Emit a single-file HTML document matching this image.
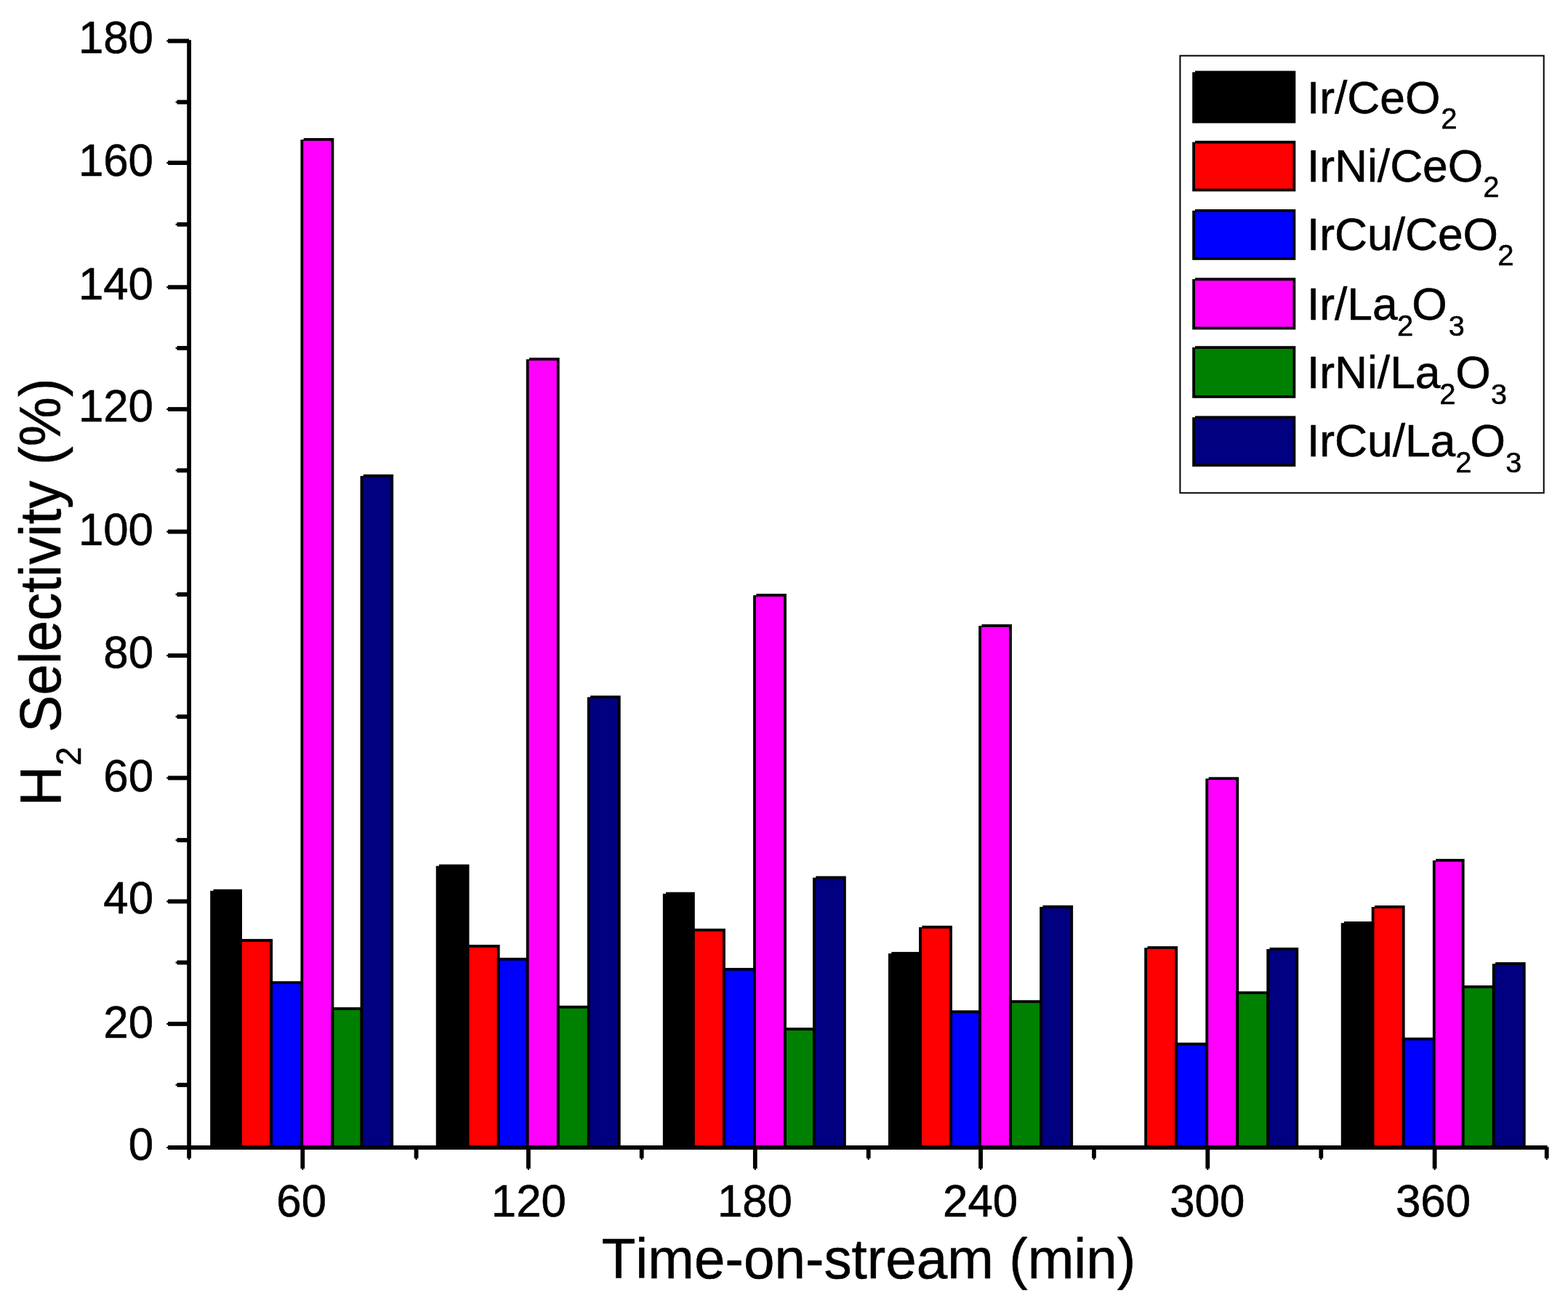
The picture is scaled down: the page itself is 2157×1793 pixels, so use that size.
<!DOCTYPE html>
<html lang="en"><head><meta charset="utf-8"><title>H2 Selectivity vs Time-on-stream</title>
<style>html,body{margin:0;padding:0;background:#fff;}body{width:2157px;height:1793px;overflow:hidden;}svg{display:block;}text{font-family:"Liberation Sans",Arial,Helvetica,sans-serif;fill:#000;stroke:#000;stroke-width:0.6px;stroke-linejoin:round;font-kerning:none;font-variant-ligatures:none;}</style>
</head><body>
<svg width="2157" height="1793" viewBox="0 0 2157 1793">
<rect x="0" y="0" width="2157" height="1793" fill="#fff"/>
<g id="bars" stroke="#000" stroke-width="3.8">
<rect x="291.1" y="1225.6" width="40" height="353.45" fill="#000000"/>
<rect x="331.1" y="1294" width="42.1" height="285.05" fill="#ff0000"/>
<rect x="373.2" y="1352.1" width="42.15" height="226.95" fill="#0000ff"/>
<rect x="415.35" y="191.9" width="42.1" height="1387.15" fill="#ff00ff"/>
<rect x="457.45" y="1388" width="40.05" height="191.05" fill="#008000"/>
<rect x="497.5" y="654.7" width="41.8" height="924.35" fill="#000080"/>
<rect x="601.65" y="1191.4" width="41.95" height="387.65" fill="#000000"/>
<rect x="643.6" y="1301.9" width="42.1" height="277.15" fill="#ff0000"/>
<rect x="685.7" y="1319.8" width="40" height="259.25" fill="#0000ff"/>
<rect x="725.7" y="494.2" width="42.1" height="1084.85" fill="#ff00ff"/>
<rect x="767.8" y="1385.7" width="41.95" height="193.35" fill="#008000"/>
<rect x="809.75" y="959.1" width="42" height="619.95" fill="#000080"/>
<rect x="913.76" y="1229.55" width="40.14" height="349.5" fill="#000000"/>
<rect x="953.9" y="1279.7" width="42.1" height="299.35" fill="#ff0000"/>
<rect x="996" y="1333.8" width="42" height="245.25" fill="#0000ff"/>
<rect x="1038" y="818.95" width="42" height="760.1" fill="#ff00ff"/>
<rect x="1080" y="1416" width="39.9" height="163.05" fill="#008000"/>
<rect x="1119.9" y="1207.5" width="42" height="371.55" fill="#000080"/>
<rect x="1223.9" y="1311.8" width="42.1" height="267.25" fill="#000000"/>
<rect x="1266" y="1275.7" width="42.1" height="303.35" fill="#ff0000"/>
<rect x="1308.1" y="1392.2" width="40" height="186.85" fill="#0000ff"/>
<rect x="1348.1" y="861" width="41.95" height="718.05" fill="#ff00ff"/>
<rect x="1390.05" y="1378.2" width="42.05" height="200.85" fill="#008000"/>
<rect x="1432.1" y="1247.7" width="42.1" height="331.35" fill="#000080"/>
<rect x="1576.1" y="1304" width="42.1" height="275.05" fill="#ff0000"/>
<rect x="1618.2" y="1436.6" width="42.05" height="142.45" fill="#0000ff"/>
<rect x="1660.25" y="1071.2" width="42.05" height="507.85" fill="#ff00ff"/>
<rect x="1702.3" y="1366.1" width="41.9" height="212.95" fill="#008000"/>
<rect x="1744.2" y="1305.8" width="40.1" height="273.25" fill="#000080"/>
<rect x="1846.65" y="1269.9" width="41.95" height="309.15" fill="#000000"/>
<rect x="1888.6" y="1247.9" width="42.1" height="331.15" fill="#ff0000"/>
<rect x="1930.7" y="1429.6" width="42.05" height="149.45" fill="#0000ff"/>
<rect x="1972.75" y="1183.8" width="39.95" height="395.25" fill="#ff00ff"/>
<rect x="2012.7" y="1357.9" width="42" height="221.15" fill="#008000"/>
<rect x="2054.7" y="1326" width="42.05" height="253.05" fill="#000080"/>
</g>
<g id="notches" fill="#fff">
<rect x="288.6" y="1223.1" width="4.9" height="2.7"/>
<rect x="412.85" y="189.4" width="4.9" height="2.7"/>
<rect x="495" y="652.2" width="4.9" height="2.7"/>
<rect x="599.15" y="1188.9" width="4.9" height="2.7"/>
<rect x="723.2" y="491.7" width="4.9" height="2.7"/>
<rect x="807.25" y="956.6" width="4.9" height="2.7"/>
<rect x="911.26" y="1227.05" width="4.9" height="2.7"/>
<rect x="1035.5" y="816.45" width="4.9" height="2.7"/>
<rect x="1117.4" y="1205" width="4.9" height="2.7"/>
<rect x="1221.4" y="1309.3" width="4.9" height="2.7"/>
<rect x="1263.5" y="1273.2" width="4.9" height="2.7"/>
<rect x="1345.6" y="858.5" width="4.9" height="2.7"/>
<rect x="1429.6" y="1245.2" width="4.9" height="2.7"/>
<rect x="1573.6" y="1301.5" width="4.9" height="2.7"/>
<rect x="1657.75" y="1068.7" width="4.9" height="2.7"/>
<rect x="1741.7" y="1303.3" width="4.9" height="2.7"/>
<rect x="1844.15" y="1267.4" width="4.9" height="2.7"/>
<rect x="1886.1" y="1245.4" width="4.9" height="2.7"/>
<rect x="1970.25" y="1181.3" width="4.9" height="2.7"/>
<rect x="2052.2" y="1323.5" width="4.9" height="2.7"/>
</g>
<g id="axes" fill="#000">
<rect x="257.2" y="55.1" width="5.8" height="1526.85"/>
<rect x="257.2" y="1576.15" width="1871.4" height="5.8"/>
<rect x="231.1" y="1576.1" width="29" height="5.9"/>
<rect x="229.2" y="1577.95" width="2.2" height="2.2"/>
<rect x="243.5" y="1489.95" width="16.6" height="5.9"/>
<rect x="241.6" y="1491.8" width="2.2" height="2.2"/>
<rect x="231.1" y="1405.95" width="29" height="5.9"/>
<rect x="229.2" y="1407.8" width="2.2" height="2.2"/>
<rect x="243.5" y="1321.55" width="16.6" height="5.9"/>
<rect x="241.6" y="1323.4" width="2.2" height="2.2"/>
<rect x="231.1" y="1237.45" width="29" height="5.9"/>
<rect x="229.2" y="1239.3" width="2.2" height="2.2"/>
<rect x="243.5" y="1153.15" width="16.6" height="5.9"/>
<rect x="241.6" y="1155" width="2.2" height="2.2"/>
<rect x="231.1" y="1067.55" width="29" height="5.9"/>
<rect x="229.2" y="1069.4" width="2.2" height="2.2"/>
<rect x="243.5" y="983.25" width="16.6" height="5.9"/>
<rect x="241.6" y="985.1" width="2.2" height="2.2"/>
<rect x="231.1" y="899.15" width="29" height="5.9"/>
<rect x="229.2" y="901" width="2.2" height="2.2"/>
<rect x="243.5" y="815.05" width="16.6" height="5.9"/>
<rect x="241.6" y="816.9" width="2.2" height="2.2"/>
<rect x="231.1" y="728.65" width="29" height="5.9"/>
<rect x="229.2" y="730.5" width="2.2" height="2.2"/>
<rect x="243.5" y="644.4" width="16.6" height="5.9"/>
<rect x="241.6" y="646.25" width="2.2" height="2.2"/>
<rect x="231.1" y="560.15" width="29" height="5.9"/>
<rect x="229.2" y="562" width="2.2" height="2.2"/>
<rect x="243.5" y="476.05" width="16.6" height="5.9"/>
<rect x="241.6" y="477.9" width="2.2" height="2.2"/>
<rect x="231.1" y="392.25" width="29" height="5.9"/>
<rect x="229.2" y="394.1" width="2.2" height="2.2"/>
<rect x="243.5" y="305.85" width="16.6" height="5.9"/>
<rect x="241.6" y="307.7" width="2.2" height="2.2"/>
<rect x="231.1" y="221.1" width="29" height="5.9"/>
<rect x="229.2" y="222.95" width="2.2" height="2.2"/>
<rect x="243.5" y="137.55" width="16.6" height="5.9"/>
<rect x="241.6" y="139.4" width="2.2" height="2.2"/>
<rect x="231.1" y="53.45" width="29" height="5.9"/>
<rect x="229.2" y="55.3" width="2.2" height="2.2"/>
<rect x="413.4" y="1579.05" width="5.8" height="28.95"/>
<rect x="415.2" y="1607.7" width="2.2" height="2.2"/>
<rect x="724" y="1579.05" width="5.8" height="28.95"/>
<rect x="725.8" y="1607.7" width="2.2" height="2.2"/>
<rect x="1035.9" y="1579.05" width="5.8" height="28.95"/>
<rect x="1037.7" y="1607.7" width="2.2" height="2.2"/>
<rect x="1346.15" y="1579.05" width="5.8" height="28.95"/>
<rect x="1347.95" y="1607.7" width="2.2" height="2.2"/>
<rect x="1658.4" y="1579.05" width="5.8" height="28.95"/>
<rect x="1660.2" y="1607.7" width="2.2" height="2.2"/>
<rect x="1970.7" y="1579.05" width="5.8" height="28.95"/>
<rect x="1972.5" y="1607.7" width="2.2" height="2.2"/>
<rect x="257.2" y="1579.05" width="5.8" height="14.75"/>
<rect x="259" y="1593.2" width="2.2" height="2.7"/>
<rect x="569.7" y="1579.05" width="5.8" height="14.75"/>
<rect x="571.5" y="1593.2" width="2.2" height="2.7"/>
<rect x="879.8" y="1579.05" width="5.8" height="14.75"/>
<rect x="881.6" y="1593.2" width="2.2" height="2.7"/>
<rect x="1191.8" y="1579.05" width="5.8" height="14.75"/>
<rect x="1193.6" y="1593.2" width="2.2" height="2.7"/>
<rect x="1502" y="1579.05" width="5.8" height="14.75"/>
<rect x="1503.8" y="1593.2" width="2.2" height="2.7"/>
<rect x="1814.4" y="1579.05" width="5.8" height="14.75"/>
<rect x="1816.2" y="1593.2" width="2.2" height="2.7"/>
<rect x="2124.8" y="1578.3" width="5.8" height="15.5"/>
<rect x="2126.6" y="1593.2" width="2.2" height="2.7"/>
</g>
<g id="ticklabels">
<text transform="translate(107.9 73.05) scale(1.000 1.023)" font-size="61.8">180</text>
<text transform="translate(107.9 241.5) scale(1.000 1.023)" font-size="61.8">160</text>
<text transform="translate(107.9 411.55) scale(1.000 1.023)" font-size="61.8">140</text>
<text transform="translate(107.9 580.1) scale(1.000 1.023)" font-size="61.8">120</text>
<text transform="translate(107.9 750.3) scale(1.000 1.023)" font-size="61.8">100</text>
<text transform="translate(142.27 918.5) scale(1.000 1.023)" font-size="61.8">80</text>
<text transform="translate(142.27 1088.65) scale(1.000 1.023)" font-size="61.8">60</text>
<text transform="translate(142.27 1257.2) scale(1.000 1.023)" font-size="61.8">40</text>
<text transform="translate(142.27 1427.5) scale(1.000 1.023)" font-size="61.8">20</text>
<text transform="translate(176.64 1595.8) scale(1.000 1.023)" font-size="61.8">0</text>
<text transform="translate(380.27 1674.05) scale(1.000 1.023)" font-size="61.8">60</text>
<text transform="translate(675.8 1674.05) scale(1.000 1.023)" font-size="61.8">120</text>
<text transform="translate(986.9 1674.05) scale(1.000 1.023)" font-size="61.8">180</text>
<text transform="translate(1297.05 1674.05) scale(1.000 1.023)" font-size="61.8">240</text>
<text transform="translate(1609.17 1674.05) scale(1.000 1.023)" font-size="61.8">300</text>
<text transform="translate(1919.97 1674.05) scale(1.000 1.023)" font-size="61.8">360</text>
</g>
<text transform="translate(827.68 1758.8) scale(1.000 1.023)" font-size="76.4" letter-spacing="0.02">Time-on-stream (min)</text>
<text id="ytitle" transform="translate(83.3 1109.3) rotate(-90) scale(1 1.037)" font-size="76.4"><tspan x="0.03" y="0">H</tspan><tspan x="55.82" y="26.62" font-size="46.5">2</tspan><tspan x="80.17" y="0" letter-spacing="0.23"> Selectivity (%)</tspan></text>
<g id="legend">
<rect x="1623.4" y="76.65" width="500.3" height="601.65" fill="none" stroke="#000" stroke-width="2"/>
<rect x="1642.1" y="99.4" width="138.3" height="68.2" fill="#000000" stroke="#000" stroke-width="3.8"/>
<rect x="1639.6" y="96.9" width="4.4" height="2.4" fill="#fff"/>
<rect x="1642.1" y="195.6" width="138.3" height="65.9" fill="#ff0000" stroke="#000" stroke-width="3.8"/>
<rect x="1639.6" y="193.1" width="4.4" height="2.4" fill="#fff"/>
<rect x="1642.1" y="289.9" width="138.3" height="66" fill="#0000ff" stroke="#000" stroke-width="3.8"/>
<rect x="1639.6" y="287.4" width="4.4" height="2.4" fill="#fff"/>
<rect x="1642.1" y="384.2" width="138.3" height="67.4" fill="#ff00ff" stroke="#000" stroke-width="3.8"/>
<rect x="1639.6" y="381.7" width="4.4" height="2.4" fill="#fff"/>
<rect x="1642.1" y="478.1" width="138.3" height="67.8" fill="#008000" stroke="#000" stroke-width="3.8"/>
<rect x="1639.6" y="475.6" width="4.4" height="2.4" fill="#fff"/>
<rect x="1642.1" y="574.3" width="138.3" height="65.9" fill="#000080" stroke="#000" stroke-width="3.8"/>
<rect x="1639.6" y="571.8" width="4.4" height="2.4" fill="#fff"/>
<text font-size="62.3"><tspan x="1797.95" y="155.5">Ir/CeO</tspan><tspan x="1982.18" y="177.2" font-size="40">2</tspan></text>
<text font-size="62.3"><tspan x="1797.95" y="249.6">IrNi/CeO</tspan><tspan x="2040.13" y="271.1" font-size="40">2</tspan></text>
<text font-size="62.3"><tspan x="1797.95" y="343.9">IrCu/CeO</tspan><tspan x="2060.13" y="365.4" font-size="40">2</tspan></text>
<text font-size="62.3"><tspan x="1797.95" y="440.3">Ir/La</tspan><tspan x="1921.88" y="461.6" font-size="40">2</tspan><tspan x="1942.19" y="440.3">O</tspan><tspan x="1992.68" y="461.6" font-size="39.5">3</tspan></text>
<text font-size="62.3"><tspan x="1797.95" y="534">IrNi/La</tspan><tspan x="1980.18" y="556" font-size="40">2</tspan><tspan x="2002.19" y="534">O</tspan><tspan x="2050.98" y="556" font-size="39.5">3</tspan></text>
<text font-size="62.3"><tspan x="1797.95" y="627.9">IrCu/La</tspan><tspan x="2002.28" y="649.8" font-size="40">2</tspan><tspan x="2022.39" y="627.9">O</tspan><tspan x="2071.13" y="649.8" font-size="39.5">3</tspan></text>
</g>
</svg>
</body></html>
